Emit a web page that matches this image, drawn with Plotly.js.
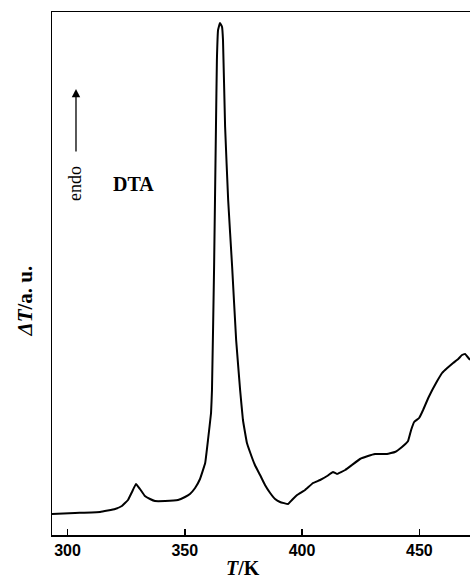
<!DOCTYPE html>
<html>
<head>
<meta charset="utf-8">
<script src="https://cdn.plot.ly/plotly-3.0.1.min.js"></script>
<style>html,body{margin:0;padding:0;background:#fff;}#chart{width:470px;height:584px;}</style>
</head>
<body>
<div id="chart"></div>
<script>
// Temperature (K)
const temperature = [293.4, 303.2, 313.9, 320.3, 323.2, 325.8, 327.5, 329.2, 330.9, 333.0, 335.2, 337.3, 341.6, 347.1, 350.1, 352.2, 354.4, 356.5, 358.7, 359.9, 361.2, 361.6, 362.5, 363.3, 363.7, 364.2, 365.0, 365.9, 366.3, 367.2, 368.5, 370.2, 371.9, 373.6, 374.8, 376.5, 377.8, 379.9, 382.1, 384.2, 386.4, 388.5, 390.6, 394.0, 395.7, 397.9, 401.3, 404.7, 407.7, 410.7, 413.2, 414.9, 418.4, 421.3, 424.7, 428.1, 431.1, 436.2, 439.6, 442.6, 445.2, 446.5, 447.8, 449.9, 451.6, 453.8, 455.5, 457.6, 459.7, 461.9, 464.4, 466.6, 468.2, 469.5, 471.6];
// DTA signal (arbitrary units)
const dta = [21, 22, 23, 26, 29, 35, 43, 51, 46, 39, 36, 34, 34, 35, 38, 41, 47, 56, 72, 95, 122, 145, 268, 408, 475, 505, 512, 508, 495, 408, 335, 268, 195, 145, 115, 92, 83, 70, 60, 50, 42, 36, 33, 31, 35, 40, 45, 52, 55, 59, 63, 61, 65, 70, 76, 79, 81, 81, 83, 88, 94, 105, 113, 117, 125, 137, 145, 154, 162, 167, 172, 176, 180, 181, 175];
const xTicks = [300, 350, 400, 450];

const serif = 'Liberation Serif, Times New Roman, serif';
const sans = 'Liberation Sans, Arial, sans-serif';

const trace = {
  x: temperature, y: dta, type: 'scatter', mode: 'lines',
  line: {color: '#000', width: 2, shape: 'spline', smoothing: 0.25},
  hoverinfo: 'skip'
};

const layout = {
  width: 470, height: 584,
  margin: {l: 52, r: 0, t: 12, b: 49},
  paper_bgcolor: '#fff', plot_bgcolor: '#fff',
  showlegend: false,
  xaxis: {
    range: [293.4, 471.6], tickvals: xTicks, ticktext: xTicks.map(String),
    ticks: 'inside', ticklen: 6, tickwidth: 1.5, tickcolor: '#000',
    showline: true, linecolor: '#000', linewidth: 1.5, mirror: true,
    showgrid: false, zeroline: false,
    tickfont: {family: sans, size: 16, color: '#000', weight: 'bold'}
  },
  yaxis: {
    range: [0, 523], showticklabels: false, ticks: '',
    showline: true, linecolor: '#000', linewidth: 1.5,
    showgrid: false, zeroline: false
  },
  annotations: [
    {xref: 'paper', yref: 'paper', x: 0.457, y: -0.087, xanchor: 'center', yanchor: 'bottom',
     text: '<b><i>T</i>/K</b>', showarrow: false, font: {family: serif, size: 20, color: '#000'}},
    {xref: 'paper', yref: 'paper', x: -0.064, y: 0.447, xanchor: 'center', yanchor: 'middle', textangle: -90,
     text: '<b><i>ΔT</i>/a. u.</b>', showarrow: false, font: {family: serif, size: 21, color: '#000'}},
    {xref: 'paper', yref: 'paper', x: 0.055, y: 0.673, xanchor: 'center', yanchor: 'middle', textangle: -90,
     text: 'endo', showarrow: false, font: {family: serif, size: 18, color: '#000'}},
    {xref: 'paper', yref: 'paper', x: 0.194, y: 0.671, xanchor: 'center', yanchor: 'middle',
     text: '<b>DTA</b>', showarrow: false, font: {family: serif, size: 20, color: '#000'}},
    {xref: 'paper', yref: 'paper', x: 0.0574, y: 0.853, text: '', showarrow: true,
     ax: 0, ay: 64, arrowhead: 2, arrowsize: 1.3, arrowwidth: 1.3, arrowcolor: '#000'}
  ]
};

Plotly.newPlot('chart', [trace], layout, {displayModeBar: false, staticPlot: true});
</script>
</body>
</html>
